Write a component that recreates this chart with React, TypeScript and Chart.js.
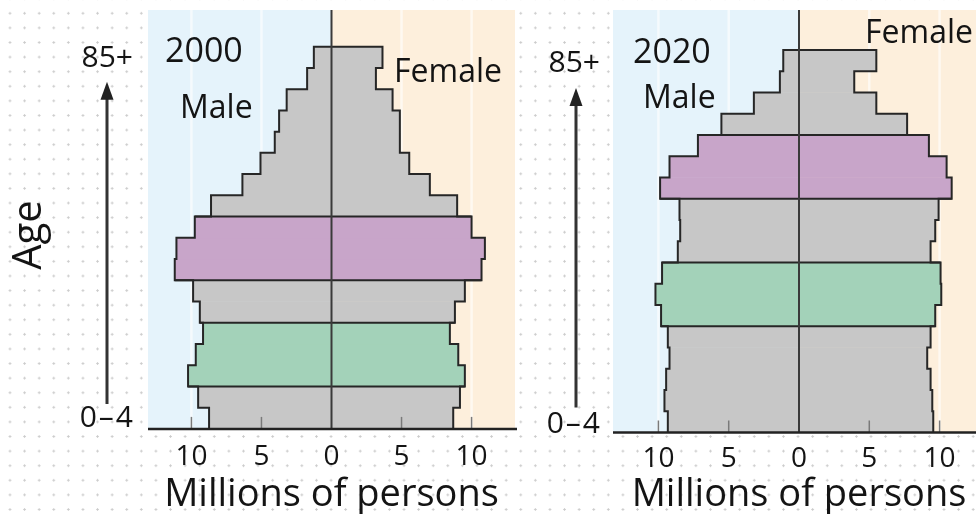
import React, { useEffect, useRef } from 'react';
import { Chart, registerables } from 'chart.js';

Chart.register(...registerables);

// ---------- data ----------
const ageGroups = ['0–4', '5–9', '10–14', '15–19', '20–24', '25–29', '30–34', '35–39', '40–44', '45–49', '50–54', '55–59', '60–64', '65–69', '70–74', '75–79', '80–84', '85+'];
const male2000 = [8.74, 9.52, 10.24, 9.69, 9.17, 9.4, 9.88, 11.19, 11.07, 9.76, 8.6, 6.36, 5.07, 4.05, 3.74, 3.2, 1.74, 1.26];
const female2000 = [8.69, 9.17, 9.52, 9.05, 8.45, 8.81, 9.52, 10.71, 10.95, 10.0, 8.97, 7.02, 5.55, 4.88, 4.88, 4.36, 3.17, 3.64];
const male2020 = [9.33, 9.57, 9.45, 9.21, 9.33, 9.81, 10.21, 9.74, 8.62, 8.45, 8.5, 9.88, 9.21, 7.19, 5.52, 3.21, 1.36, 1.12];
const female2020 = [9.55, 9.48, 9.36, 9.12, 9.36, 9.69, 10.12, 10.07, 9.36, 9.69, 9.93, 10.86, 10.5, 9.24, 7.69, 5.5, 3.93, 5.5];
const babyBoom2000 = ['35–39', '40–44', '45–49'];
const echoBoom2000 = ['10–14', '15–19', '20–24'];
const babyBoom2020 = ['55–59', '60–64', '65–69'];
const echoBoom2020 = ['25–29', '30–34', '35–39'];
const xTickValues = [-10, -5, 0, 5, 10];
const axisTitle = 'Millions of persons';
const ageAxisTitle = 'Age';
const topAgeLabel = '85+';
const bottomAgeLabel = '0–4';

// ---------- styles ----------
const FONT = '"Open Sans", "Noto Sans", sans-serif';
const TEXT = '#141414';
const GRAY = '#c7c7c7';
const PURPLE = '#c8a5c9';
const GREEN = '#a3d2b9';
const BLUE_BG = '#e5f3fb';
const ORANGE_BG = '#fdefdc';
const OUTLINE = '#262626';

type Panel = {
  year: string;
  male: number[];
  female: number[];
  purple: string[];
  green: string[];
  canvasLeft: number;
  canvasWidth: number;
  pad: { left: number; right: number; top: number };
  range: number;
  tickPad: number;
  titlePadTop: number;
  showAge: boolean;
  pos: {
    yearDx: number; yearY: number;
    maleDx: number; maleY: number;
    femaleRightDx: number; femaleY: number;
    ageRightDx: number; topAgeY: number; bottomAgeY: number;
    arrowDx: number; arrowTipDy: number; arrowBottomDy: number;
  };
};

const panels: Panel[] = [
  {
    year: '2000', male: male2000, female: female2000, purple: babyBoom2000, green: echoBoom2000,
    canvasLeft: 0, canvasWidth: 522,
    pad: { left: 148, right: 7, top: 46.7 },
    range: 13.1, tickPad: 11.5, titlePadTop: -9.5, showAge: true,
    pos: {
      yearDx: 17, yearY: 61.5, maleDx: 32, maleY: 118, femaleRightDx: 13, femaleY: 81.5,
      ageRightDx: 15, topAgeY: 67, bottomAgeY: 427,
      arrowDx: 41, arrowTipDy: 35, arrowBottomDy: 25,
    },
  },
  {
    year: '2020', male: male2020, female: female2020, purple: babyBoom2020, green: echoBoom2020,
    canvasLeft: 522, canvasWidth: 470,
    pad: { left: 91, right: 7, top: 50 },
    range: 13.23, tickPad: 10.2, titlePadTop: -10.5, showAge: false,
    pos: {
      yearDx: 20, yearY: 62.5, maleDx: 30, maleY: 108, femaleRightDx: 12, femaleY: 43,
      ageRightDx: 13, topAgeY: 71.5, bottomAgeY: 433,
      arrowDx: 37, arrowTipDy: 38, arrowBottomDy: 25,
    },
  },
];

function bandColors(p: Panel) {
  return ageGroups.map((g) => (p.purple.includes(g) ? PURPLE : p.green.includes(g) ? GREEN : GRAY));
}

function makePlugin(p: Panel) {
  const BG_TOP = 10;
  return {
    id: 'pyramidDecor' + p.year,
    beforeDraw(chart: any) {
      const { ctx, chartArea } = chart;
      const xs = chart.scales.x;
      const x0 = xs.getPixelForValue(0);
      ctx.save();
      ctx.fillStyle = BLUE_BG;
      ctx.fillRect(chartArea.left, BG_TOP, x0 - chartArea.left, chartArea.bottom - BG_TOP);
      ctx.fillStyle = ORANGE_BG;
      ctx.fillRect(x0, BG_TOP, chartArea.right - x0, chartArea.bottom - BG_TOP);
      ctx.strokeStyle = 'rgba(255,255,255,0.6)';
      ctx.lineWidth = 2.5;
      xTickValues.filter((v) => v !== 0).forEach((v) => {
        const x = xs.getPixelForValue(v);
        ctx.beginPath();
        ctx.moveTo(x, BG_TOP);
        ctx.lineTo(x, chartArea.bottom);
        ctx.stroke();
      });
      ctx.restore();
    },
    afterDatasetsDraw(chart: any) {
      const { ctx, chartArea } = chart;
      const xs = chart.scales.x;
      const m = chart.getDatasetMeta(0).data as any[];
      const f = chart.getDatasetMeta(1).data as any[];
      const n = m.length;
      const top = (e: any) => e.y - e.height / 2;
      const bot = (e: any) => e.y + e.height / 2;
      const colors = bandColors(p);
      ctx.save();
      ctx.strokeStyle = OUTLINE;
      ctx.lineWidth = 2;
      ctx.lineJoin = 'miter';
      // stepped outline
      ctx.beginPath();
      ctx.moveTo(m[0].x, bot(m[0]));
      for (let i = 0; i < n; i++) {
        ctx.lineTo(m[i].x, bot(m[i]));
        ctx.lineTo(m[i].x, top(m[i]));
      }
      ctx.lineTo(f[n - 1].x, top(f[n - 1]));
      for (let i = n - 1; i >= 0; i--) {
        ctx.lineTo(f[i].x, top(f[i]));
        ctx.lineTo(f[i].x, bot(f[i]));
      }
      ctx.stroke();
      // band boundaries
      for (let i = 0; i < n - 1; i++) {
        if (colors[i] !== colors[i + 1]) {
          const y = top(m[i]);
          ctx.beginPath();
          ctx.moveTo(Math.min(m[i].x, m[i + 1].x), y);
          ctx.lineTo(Math.max(f[i].x, f[i + 1].x), y);
          ctx.stroke();
        }
      }
      // center line
      const x0 = xs.getPixelForValue(0);
      ctx.strokeStyle = '#3a3a3a';
      ctx.lineWidth = 2;
      ctx.beginPath();
      ctx.moveTo(x0, BG_TOP);
      ctx.lineTo(x0, chartArea.bottom);
      ctx.stroke();
      // inner tick marks
      ctx.strokeStyle = '#7a7a7a';
      ctx.lineWidth = 1.5;
      xTickValues.filter((v) => v !== 0).forEach((v) => {
        const x = xs.getPixelForValue(v);
        ctx.beginPath();
        ctx.moveTo(x, chartArea.bottom);
        ctx.lineTo(x, chartArea.bottom - 12);
        ctx.stroke();
      });
      // axis line
      ctx.strokeStyle = '#222';
      ctx.lineWidth = 2.5;
      ctx.beginPath();
      ctx.moveTo(chartArea.left, chartArea.bottom);
      ctx.lineTo(chartArea.right + 2, chartArea.bottom);
      ctx.stroke();
      ctx.restore();
    },
    afterDraw(chart: any) {
      const { ctx, chartArea } = chart;
      const q = p.pos;
      ctx.save();
      ctx.fillStyle = TEXT;
      ctx.textBaseline = 'alphabetic';
      ctx.textAlign = 'left';
      ctx.font = `34px ${FONT}`;
      ctx.fillText(p.year, chartArea.left + q.yearDx, q.yearY);
      ctx.font = `32px ${FONT}`;
      ctx.fillText('Male', chartArea.left + q.maleDx, q.maleY);
      ctx.textAlign = 'right';
      ctx.fillText('Female', chartArea.right - q.femaleRightDx, q.femaleY);
      ctx.font = `30px ${FONT}`;
      ctx.fillText(topAgeLabel, chartArea.left - q.ageRightDx, q.topAgeY);
      (ctx as any).letterSpacing = '2px';
      ctx.fillText(bottomAgeLabel, chartArea.left - q.ageRightDx + 2, q.bottomAgeY);
      (ctx as any).letterSpacing = '0px';
      // arrow
      const ax = chartArea.left - q.arrowDx;
      const tip = chartArea.top + q.arrowTipDy;
      const bottom = chartArea.bottom - q.arrowBottomDy;
      ctx.strokeStyle = '#333';
      ctx.fillStyle = '#222';
      ctx.lineWidth = 3;
      ctx.beginPath();
      ctx.moveTo(ax, bottom);
      ctx.lineTo(ax, tip + 14);
      ctx.stroke();
      ctx.beginPath();
      ctx.moveTo(ax, tip);
      ctx.lineTo(ax - 6.5, tip + 18);
      ctx.lineTo(ax + 6.5, tip + 18);
      ctx.closePath();
      ctx.fill();
      if (p.showAge) {
        ctx.fillStyle = TEXT;
        ctx.translate(30, 235);
        ctx.rotate(-Math.PI / 2);
        ctx.textAlign = 'center';
        ctx.textBaseline = 'middle';
        ctx.font = `40px ${FONT}`;
        ctx.fillText(ageAxisTitle, 0, 0);
      }
      ctx.restore();
    },
  };
}

function PyramidPanel({ p }: { p: Panel }) {
  const ref = useRef<HTMLCanvasElement | null>(null);
  useEffect(() => {
    if (!ref.current) return;
    const colors = bandColors(p);
    const chart = new Chart(ref.current, {
      type: 'bar',
      data: {
        labels: ageGroups,
        datasets: [
          { label: 'Male', data: p.male.map((v) => -v), backgroundColor: colors, borderWidth: 0, barPercentage: 1, categoryPercentage: 1 },
          { label: 'Female', data: p.female, backgroundColor: colors, borderWidth: 0, barPercentage: 1, categoryPercentage: 1 },
        ],
      },
      options: {
        indexAxis: 'y',
        responsive: false,
        animation: false,
        events: [],
        layout: { padding: { left: p.pad.left, right: p.pad.right, top: p.pad.top, bottom: 0 } },
        plugins: { legend: { display: false }, tooltip: { enabled: false } },
        scales: {
          x: {
            type: 'linear',
            stacked: true,
            min: -p.range,
            max: p.range,
            afterBuildTicks: (s: any) => {
              s.ticks = xTickValues.map((v) => ({ value: v }));
            },
            grid: { display: false, drawTicks: false },
            border: { display: false },
            ticks: {
              padding: p.tickPad,
              color: TEXT,
              autoSkip: false,
              maxRotation: 0,
              font: { family: FONT, size: 28, lineHeight: 1.2 },
              callback: (v: any) => String(Math.abs(Number(v))),
            },
            title: {
              display: true,
              text: axisTitle,
              color: TEXT,
              font: { family: FONT, size: 38, lineHeight: 1 },
              padding: { top: p.titlePadTop, bottom: 0 },
            },
          },
          y: { type: 'category', stacked: true, reverse: true, display: false },
        },
      },
      plugins: [makePlugin(p)],
    } as any);
    return () => chart.destroy();
  }, [p]);
  return (
    <canvas
      ref={ref}
      width={p.canvasWidth}
      height={514}
      style={{ position: 'absolute', left: p.canvasLeft, top: 0 }}
    />
  );
}

export default function App() {
  return (
    <div
      style={{
        position: 'absolute',
        left: 0,
        top: 0,
        width: 976,
        height: 514,
        overflow: 'hidden',
        background: '#fff',
        backgroundImage: 'radial-gradient(circle, rgba(160,160,160,0.55) 0.9px, transparent 1.4px)',
        backgroundSize: '14.6px 14.6px',
        backgroundPosition: '2.7px 6px',
      }}
    >
      {panels.map((p) => (
        <PyramidPanel key={p.year} p={p} />
      ))}
    </div>
  );
}
